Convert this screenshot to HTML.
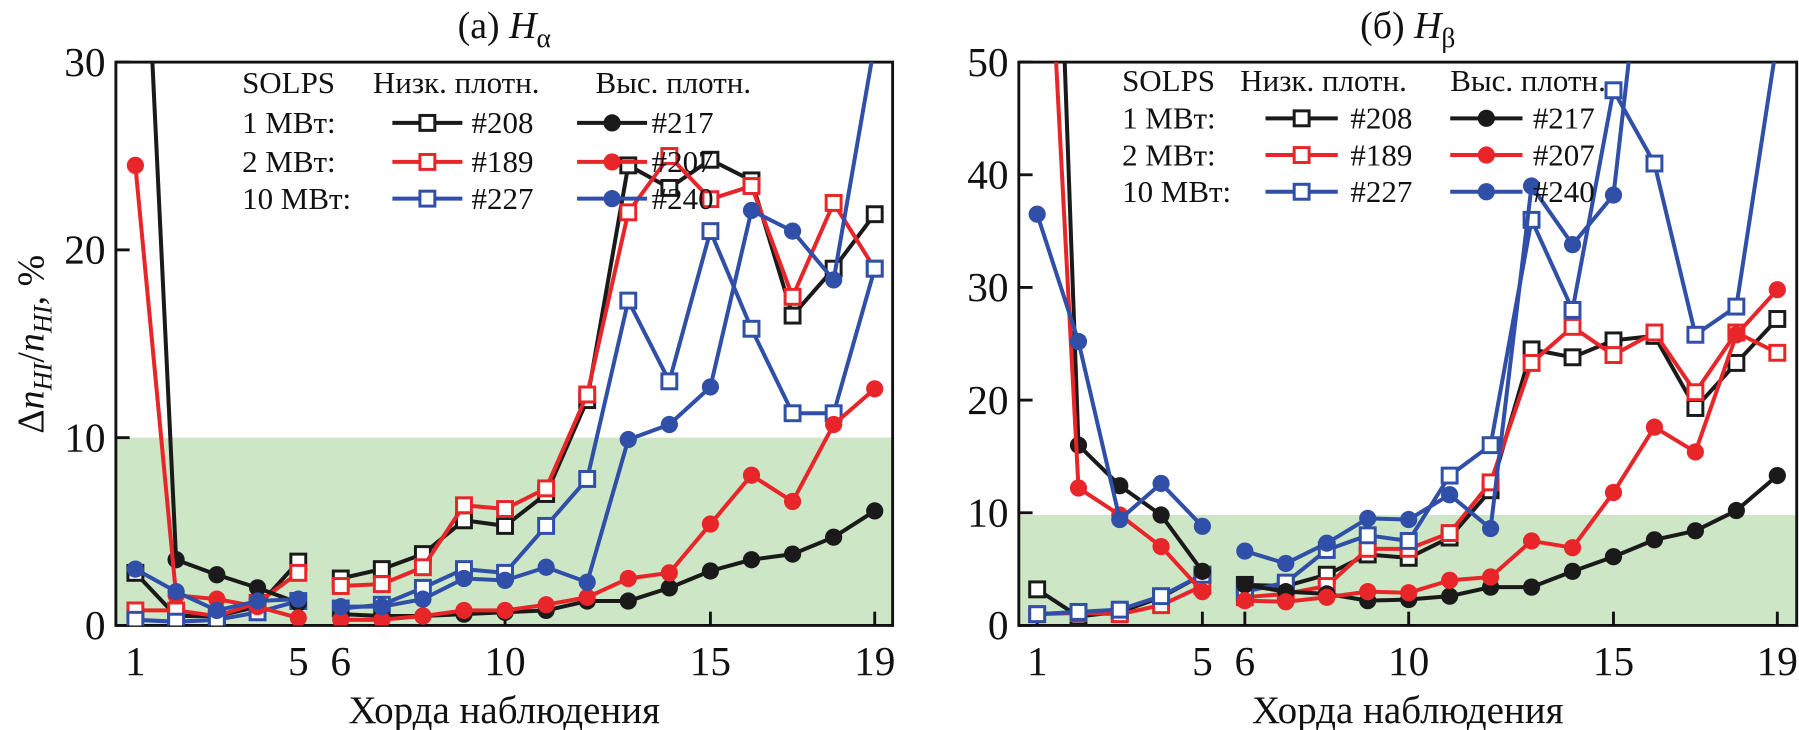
<!DOCTYPE html>
<html><head><meta charset="utf-8"><style>
html,body{margin:0;padding:0;background:#fff;}
svg{display:block;font-family:"Liberation Serif",serif;}
</style></head><body>
<svg id="chart" width="1799" height="730" viewBox="0 0 1568 636" xmlns="http://www.w3.org/2000/svg">
<defs>
<clipPath id="clipA"><rect x="101" y="54" width="677" height="491"/></clipPath>
<clipPath id="clipB"><rect x="888" y="54" width="678" height="491"/></clipPath>
</defs>
<g id="panelA"></g>
<g id="panelB"></g>
</svg>
<script>
const chords = [1,2,3,4,5,6,7,8,9,10,11,12,13,14,15,16,17,18,19];
const seriesNames = ["#208","#189","#227","#217","#207","#240"];
const seriesColors = ["#1a1a1a","#e8262a","#2f4fa8","#1a1a1a","#e8262a","#2f4fa8"];
const seriesFilled = [false,false,false,true,true,true];
// Panel (a) H-alpha
const a208 = [2.8,0.5,0.5,1.0,3.4, 2.5,3.0,3.8,5.6,5.3,7.0,12.0,24.5,23.3,24.8,23.7,16.5,19.0,21.9];
const a189 = [0.8,0.8,0.5,1.2,2.8, 2.1,2.2,3.1,6.4,6.2,7.3,12.3,22.0,25.0,22.7,23.4,17.5,22.5,19.0];
const a227 = [0.3,0.2,0.3,0.7,1.3, 0.9,1.1,2.0,3.0,2.8,5.3,7.8,17.3,13.0,21.0,15.8,11.3,11.3,19.0];
const a217 = [49,3.5,2.7,2.0,1.2, 0.6,0.5,0.5,0.6,0.7,0.8,1.3,1.3,2.0,2.9,3.5,3.8,4.7,6.1];
const a207 = [24.5,1.6,1.4,1.0,0.4, 0.3,0.3,0.5,0.8,0.8,1.1,1.5,2.5,2.8,5.4,8.0,6.6,10.7,12.6];
const a240 = [3.0,1.8,0.8,1.3,1.4, 1.0,1.0,1.4,2.5,2.4,3.1,2.3,9.9,10.7,12.7,22.1,21.0,18.4,31.0];
// Panel (b) H-beta
const b208 = [3.2,0.8,1.2,2.5,4.5, 3.6,3.5,4.5,6.3,6.0,7.8,12.0,24.5,23.8,25.3,25.7,19.3,23.3,27.2];
const b189 = [1.0,1.1,1.0,1.8,3.5, 2.5,2.8,3.5,6.8,6.8,8.2,12.7,23.3,26.5,24.0,26.0,20.7,26.0,24.2];
const b227 = [1.0,1.2,1.4,2.6,4.5, 3.0,3.8,6.7,8.0,7.5,13.3,16.0,36.0,28.0,47.5,41.0,25.8,28.3,52.0];
const b217 = [118,16.0,12.4,9.8,4.8, 3.6,3.0,2.8,2.2,2.3,2.6,3.4,3.4,4.8,6.1,7.6,8.4,10.2,13.3];
const b207 = [82,12.2,9.8,7.0,3.0, 2.2,2.1,2.5,3.0,2.9,4.0,4.3,7.5,6.9,11.8,17.6,15.4,25.8,29.8];
const b240 = [36.5,25.2,9.4,12.6,8.8, 6.6,5.5,7.3,9.5,9.4,11.6,8.6,39.0,33.8,38.2,70,90,90,90];
const yTicksA = [0,10,20,30];
const yTicksB = [0,10,20,30,40,50];
const xTickLabels = [1,5,6,10,15,19];
const thresholdA = 10;
const thresholdB = 9.8;

const NS="http://www.w3.org/2000/svg";
function mk(tag,attrs,parent){const e=document.createElementNS(NS,tag);for(const k in attrs)e.setAttribute(k,attrs[k]);parent.appendChild(e);return e;}

function drawPanel(g,cfg){
  const {L,R,T,B,ymax,x1,x6,dx1,dx6,clip,yTicks,thr,data,title,sub,leg} = cfg;
  const xs = c => c<=5 ? x1+(c-1)*dx1 : x6+(c-6)*dx6;
  const ys = v => B-(v/ymax)*(B-T);
  const band = mk('rect',{x:L,y:ys(thr),width:R-L,height:B-ys(thr),fill:'#cde6c6'},g);
  
  
  const fr = mk('rect',{x:L,y:T,width:R-L,height:B-T,fill:'none',stroke:'#111','stroke-width':2.5},g);
  
  
  yTicks.forEach(t=>{
    mk('line',{x1:L,x2:L+12,y1:ys(t),y2:ys(t),stroke:'#111','stroke-width':2.5},g);
    const tx = mk('text',{x:L-9,y:ys(t)+12,'text-anchor':'end','font-size':36,fill:'#111'},g);
    tx.textContent=t;
    
    
  });
  xTickLabels.forEach(c=>{
    mk('line',{x1:xs(c),x2:xs(c),y1:B,y2:B-12,stroke:'#111','stroke-width':2.5},g);
    const tx = mk('text',{x:xs(c),y:588,'text-anchor':'middle','font-size':36,fill:'#111'},g);
    tx.textContent=c;
    
    
  });
  const sg = mk('g',{'clip-path':'url(#'+clip+')'},g);
  data.forEach((vals,si)=>{
    const col=seriesColors[si];
    const s = mk('g',{},sg);
    
    
    [[0,5],[5,19]].forEach(([a,b])=>{
      const pts=[];for(let i=a;i<b;i++)pts.push(xs(chords[i])+','+ys(vals[i]));
      mk('polyline',{points:pts.join(' '),fill:'none',stroke:col,'stroke-width':3.5,'stroke-linejoin':'round'},s);
    });
    vals.forEach((v,i)=>{
      let m;
      if(seriesFilled[si]) m=mk('circle',{cx:xs(chords[i]),cy:ys(v),r:7.5,fill:col},s);
      else m=mk('rect',{x:xs(chords[i])-6.5,y:ys(v)-6.5,width:13,height:13,fill:'#fff',stroke:col,'stroke-width':2.6},s);
      
      
    });
  });
  const tt = mk('text',{x:(L+R)/2,y:33,'text-anchor':'middle','font-size':33,fill:'#111'},g);
  tt.innerHTML = title+'  <tspan font-style="italic">H</tspan><tspan font-size="24" dy="8">'+sub+'</tspan>';
  
  
  const xt = mk('text',{x:(L+R)/2,y:630,'text-anchor':'middle','font-size':34,fill:'#111'},g);
  xt.textContent='Хорда наблюдения';
  
  
  const lg = mk('g',{'font-size':27,fill:'#111'},g);
  
  
  const hdr=[['SOLPS',leg.sx],['Низк. плотн.',leg.lx],['Выс. плотн.',leg.hx]];
  hdr.forEach(([t,x])=>{const e=mk('text',{x:x,y:leg.rows[0]+9},lg);e.textContent=t;});
  const rowLbl=['1 МВт:','2 МВт:','10 МВт:'];
  for(let r=0;r<3;r++){
    const y=leg.rows[r+1];
    const e=mk('text',{x:leg.sx,y:y+9},lg);e.textContent=rowLbl[r];
    [[r,leg.l0,leg.l1,leg.lt],[r+3,leg.h0,leg.h1,leg.ht]].forEach(([si,x0,x1e,xt2])=>{
      const col=seriesColors[si];
      const en=mk('g',{},lg);
      
      
      mk('line',{x1:x0,x2:x1e,y1:y,y2:y,stroke:col,'stroke-width':3.5},en);
      const mx=(x0+x1e)/2;
      if(seriesFilled[si]) mk('circle',{cx:mx,cy:y,r:7.5,fill:col},en);
      else mk('rect',{x:mx-6.5,y:y-6.5,width:13,height:13,fill:'#fff',stroke:col,'stroke-width':2.6},en);
      const t=mk('text',{x:xt2,y:y+9},en);t.textContent=seriesNames[si];
    });
  }
}
drawPanel(document.getElementById('panelA'),{L:101,R:778,T:54,B:545,ymax:30,x1:118,x6:297,dx1:35.5,dx6:35.8,clip:'clipA',
  yTicks:yTicksA,thr:thresholdA,data:[a208,a189,a227,a217,a207,a240],title:'(а)',sub:'α',
  leg:{sx:211,lx:325,hx:519,rows:[72,107,141,173],l0:342,l1:403,lt:411,h0:503,h1:564,ht:568}});
drawPanel(document.getElementById('panelB'),{L:888,R:1566,T:54,B:545,ymax:50,x1:904,x6:1085,dx1:36,dx6:35.7,clip:'clipB',
  yTicks:yTicksB,thr:thresholdB,data:[b208,b189,b227,b217,b207,b240],title:'(б)',sub:'β',
  leg:{sx:978,lx:1081,hx:1264,rows:[70,103,135,167],l0:1103,l1:1166,lt:1177,h0:1264,h1:1327,ht:1336}});
const svg=document.getElementById('chart');
const yt=mk('text',{x:0,y:0,transform:'translate(38,300) rotate(-90)','text-anchor':'middle','font-size':33,fill:'#111'},svg);
yt.innerHTML='Δ<tspan font-style="italic">n</tspan><tspan font-style="italic" font-size="23" dy="7">HI</tspan><tspan dy="-7">/</tspan><tspan font-style="italic">n</tspan><tspan font-style="italic" font-size="23" dy="7">HI</tspan><tspan dy="-7">, %</tspan>';


</script>
</body></html>
